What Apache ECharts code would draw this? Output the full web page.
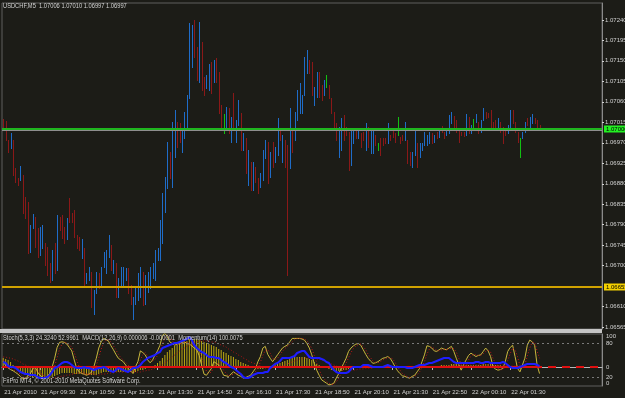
<!DOCTYPE html>
<html><head><meta charset="utf-8">
<script src="https://cdn.jsdelivr.net/npm/echarts@6/dist/echarts.min.js"></script>
<style>html,body{margin:0;padding:0;background:#1c1c17;}#c{width:625px;height:398px;}</style>
</head><body><div id="c"></div>
<script>
const symbolTitle = 'USDCHF,M5  1.07006 1.07010 1.06997 1.06997';
const indicatorTitle = 'Stoch(5,3,3) 24.3240 52.9961  MACD(12,26,9) 0.000006 -0.000001  Momentum(14) 100.0075';
const copyrightText = 'FxPro MT4, \u00a9 2001-2010 MetaQuotes Software Corp.';
const firstBar = { year: 2010, month: 3, day: 21, hour: 8, minute: 15 };
const barMinutes = 5;
const tickLabels = ['21 Apr 2010','21 Apr 09:30','21 Apr 10:50','21 Apr 12:10','21 Apr 13:30','21 Apr 14:50','21 Apr 16:10','21 Apr 17:30','21 Apr 18:50','21 Apr 20:10','21 Apr 21:30','21 Apr 22:50','22 Apr 00:10','22 Apr 01:30'];
const priceTicks = [1.06565,1.06610,1.06700,1.06745,1.06790,1.06835,1.06880,1.06925,1.06970,1.07015,1.07060,1.07105,1.07150,1.07195,1.07240];
const levelLine = 1.07000;
const alertLine = 1.06653;
const bidLine = 1.06997;
const stochLevels = [80, 20];
const subEdgeLabels = ['100', '0'];

const high = [
1.07022,1.07018,1.06976,1.06991,1.06976,1.06914,1.06892,1.06919,1.06899,1.06851,
1.06840,1.06789,1.06813,1.06807,1.06782,1.06785,1.06789,1.06749,1.06741,1.06705,
1.06734,1.06749,1.06811,1.06807,1.06811,1.06785,1.06804,1.06848,1.06815,1.06822,
1.06767,1.06763,1.06758,1.06738,1.06683,1.06697,1.06686,1.06646,1.06686,1.06683,
1.06697,1.06730,1.06734,1.06767,1.06745,1.06712,1.06705,1.06672,1.06697,1.06697,
1.06694,1.06694,1.06657,1.06631,1.06653,1.06683,1.06697,1.06686,1.06679,1.06686,
1.06697,1.06705,1.06734,1.06738,1.06800,1.06859,1.06895,1.06972,1.06950,1.07016,
1.07042,1.07016,1.07013,1.06998,1.07038,1.07075,1.07233,1.07229,1.07240,1.07181,
1.07236,1.07192,1.07115,1.07119,1.07143,1.07148,1.07152,1.07156,1.07126,1.07053,
1.07033,1.07049,1.07046,1.07027,1.07079,1.07020,1.07064,1.07035,1.06991,1.06980,
1.06954,1.06928,1.06928,1.06917,1.06892,1.06903,1.06954,1.06976,1.06972,1.06950,
1.06972,1.06961,1.07024,1.07002,1.06987,1.06976,1.06965,1.07046,1.07002,1.07038,
1.07086,1.07101,1.07075,1.07159,1.07174,1.07152,1.07148,1.07093,1.07126,1.07126,
1.07097,1.07108,1.07119,1.07097,1.07068,1.07038,1.07013,1.07005,1.07024,1.07031,
1.07005,1.06994,1.07002,1.07002,1.06998,1.06998,1.06991,1.06994,1.07013,1.07005,
1.07002,1.06998,1.06987,1.06969,1.06980,1.06980,1.06980,1.07013,1.06987,1.07002,
1.06991,1.07027,1.06983,1.06987,1.07016,1.06976,1.06950,1.06950,1.06998,1.06969,
1.06969,1.06969,1.06994,1.06987,1.06994,1.06991,1.06987,1.06994,1.06998,1.07007,
1.06994,1.07002,1.07031,1.07038,1.07029,1.07020,1.06998,1.06994,1.06994,1.07033,
1.07027,1.07009,1.07022,1.07033,1.07016,1.07020,1.07046,1.07038,1.07035,1.07042,
1.07016,1.07020,1.07024,1.07016,1.07005,1.06998,1.07009,1.07042,1.07042,1.07016,
1.06994,1.06980,1.06994,1.07016,1.07024,1.07027,1.07033,1.07024,1.07020,1.07010];

const low = [
1.07005,1.06976,1.06950,1.06958,1.06899,1.06884,1.06877,1.06888,1.06815,1.06804,
1.06727,1.06730,1.06782,1.06741,1.06719,1.06723,1.06738,1.06701,1.06679,1.06664,
1.06668,1.06683,1.06690,1.06778,1.06760,1.06749,1.06758,1.06796,1.06796,1.06763,
1.06738,1.06734,1.06716,1.06657,1.06661,1.06668,1.06609,1.06595,1.06639,1.06650,
1.06657,1.06697,1.06683,1.06719,1.06690,1.06683,1.06631,1.06631,1.06653,1.06657,
1.06668,1.06639,1.06617,1.06584,1.06617,1.06624,1.06631,1.06613,1.06617,1.06642,
1.06650,1.06672,1.06668,1.06712,1.06712,1.06749,1.06818,1.06870,1.06892,1.06873,
1.06939,1.06961,1.06972,1.06950,1.06980,1.07002,1.07068,1.07137,1.07159,1.07108,
1.07104,1.07086,1.07075,1.07090,1.07086,1.07079,1.07104,1.07104,1.07035,1.06998,
1.06991,1.07005,1.06991,1.06972,1.07002,1.06972,1.07009,1.06954,1.06954,1.06903,
1.06877,1.06866,1.06866,1.06884,1.06859,1.06873,1.06888,1.06936,1.06881,1.06895,
1.06917,1.06928,1.06943,1.06976,1.06928,1.06917,1.06679,1.06914,1.06950,1.06976,
1.07020,1.07035,1.07035,1.07075,1.07123,1.07123,1.07075,1.07053,1.07071,1.07071,
1.07064,1.07075,1.07093,1.07068,1.07035,1.06998,1.06976,1.06939,1.06954,1.06976,
1.06987,1.06910,1.06921,1.06969,1.06980,1.06980,1.06961,1.06976,1.06954,1.06961,
1.06947,1.06947,1.06965,1.06954,1.06943,1.06965,1.06969,1.06969,1.06976,1.06983,
1.06972,1.06987,1.06969,1.06976,1.06976,1.06925,1.06921,1.06917,1.06943,1.06917,
1.06939,1.06954,1.06965,1.06965,1.06969,1.06969,1.06972,1.06980,1.06983,1.06994,
1.06980,1.06987,1.06991,1.07013,1.07005,1.06994,1.06972,1.06987,1.06985,1.06987,
1.06991,1.06991,1.07005,1.07016,1.06991,1.06994,1.07020,1.07024,1.07027,1.07005,
1.06998,1.07002,1.07005,1.06994,1.06969,1.06987,1.06991,1.07005,1.07013,1.06994,
1.06972,1.06939,1.06980,1.06994,1.07009,1.07005,1.07013,1.07013,1.07002,1.06997];

// u = close above open, d = close below open, g = unchanged
const barDir = 'dddudddudd'+'duudduuddd'+'ududdduddd'+'dduduuduud'+'uuuududuuu'+'udduuuuduu'+'uuuuuuuudu'+'udduuuuudd'+'udduududdd'+'gududuudud'+'ududduuudu'+'duududdudu'+'uuuuudduud'+'dugdddduud'+'dduududdud'+'uudgdddudd'+'dgddudduud'+'uuuuududud'+'duuudddddu'+'duguduuddd'+'dduddduudd'+'dguuduuddd';

const stochMain = [
47,40,36,33,31,28,25,21,16,18,21,25,34,38,29,23,20,18,22,26,
38,53,72,81,82,81,78,72,66,50,35,29,26,25,23,25,28,38,53,71,
82,88,86,83,75,68,60,53,50,47,41,35,31,26,38,47,66,63,59,50,
45,50,59,66,76,93,97,91,82,79,76,78,79,81,82,79,78,75,71,68,
58,41,25,23,29,35,47,44,41,32,23,22,21,25,29,26,23,21,18,19,
21,23,29,35,47,56,71,74,60,53,47,53,59,65,71,74,76,82,88,88,
88,88,87,85,79,71,59,44,32,23,15,12,9,6,7,9,18,26,35,44,
53,65,71,75,78,79,76,68,60,53,48,44,45,47,50,53,54,56,53,46,
38,31,26,22,21,19,18,21,23,29,35,47,59,75,74,71,66,65,68,71,
69,68,71,74,65,53,42,32,42,50,58,62,59,56,58,59,65,71,66,56,
38,34,32,33,35,47,65,72,76,56,35,29,41,53,76,85,82,76,41,26];

const stochSignal = [
50,45,41,36,33,31,28,25,21,18,18,21,27,32,34,30,24,20,20,22,
29,39,54,69,78,81,80,77,72,63,50,38,30,27,25,24,25,30,40,54,
69,80,85,86,81,75,68,60,54,50,46,41,36,31,32,37,50,59,63,57,
51,48,51,58,67,78,89,94,90,84,79,78,78,79,81,81,80,77,75,71,
66,56,41,30,26,29,37,42,44,39,32,26,22,23,25,27,26,23,21,19,
19,21,24,29,37,46,58,67,68,62,53,51,53,59,65,70,74,77,82,86,
88,88,88,87,84,78,70,58,45,33,23,17,12,9,7,7,11,18,26,35,
44,54,63,70,75,77,78,74,68,60,54,48,46,45,47,50,52,54,54,52,
46,38,32,26,23,21,19,19,21,24,29,37,47,60,69,73,70,67,66,68,
69,69,69,71,70,64,53,42,39,41,50,57,60,59,58,58,61,65,67,64,
53,43,35,33,33,38,49,61,71,68,56,40,35,41,57,71,81,81,66,53];

// MACD values in points (0.00001)
const macdHistPoints = [
9,8,7,5,2,-1,-3,-5,-7,-8,-9,-10,-10,-10,-10,-11,-11,-11,-11,-11,
-10,-9,-8,-7,-6,-6,-6,-6,-6,-7,-7,-7,-7,-7,-8,-8,-8,-8,-8,-7,
-6,-5,-5,-5,-5,-5,-5,-5,-5,-5,-5,-5,-5,-6,-5,-4,-3,-3,-2,-1,
0,1,2,4,6,9,12,15,17,19,21,22,23,24,25,26,28,28,28,28,
27,26,25,24,23,22,21,20,18,17,15,14,12,11,10,8,7,5,4,3,
2,1,0,-1,-2,-2,-2,-1,0,0,1,2,3,4,5,6,7,8,9,10,
10,10,10,10,9,8,7,5,3,2,1,0,-1,-2,-3,-4,-4,-4,-4,-3,
-3,-2,-2,-1,-1,-1,-1,0,0,0,0,0,0,0,0,-1,-1,0,0,0,
0,1,1,1,1,0,0,-1,-1,-1,-1,0,0,0,1,1,1,1,1,2,
2,2,2,3,3,3,2,2,2,2,2,2,2,2,2,2,3,3,3,3,
2,2,2,2,0,-1,-1,0,0,-1,-1,-2,-1,0,0,0,1,1,1,0.6];

const macdSignalPoints = [
10,10,9,9,8,7,6,5,3,2,1,0,-2,-3,-5,-6,-8,-9,-10,-10,
-11,-11,-10,-10,-9,-9,-8,-8,-7,-7,-6,-6,-6,-7,-7,-7,-7,-7,-8,-8,
-7,-7,-7,-6,-6,-6,-5,-5,-5,-5,-5,-5,-5,-5,-5,-5,-5,-4,-4,-3,
-3,-2,-1,0,1,2,4,6,8,10,12,14,16,18,19,21,22,23,24,25,
26,26,26,26,26,25,25,24,23,22,21,20,18,17,15,14,12,11,9,8,
6,5,4,3,2,1,0,-1,-1,-1,-1,0,0,1,1,2,3,4,5,6,
7,8,8,9,9,9,9,9,8,8,7,6,5,4,3,2,1,0,-1,-2,
-2,-3,-3,-3,-3,-2,-2,-2,-1,-1,-1,-1,0,0,0,0,0,0,0,0,
0,0,0,0,0,0,0,0,0,0,0,0,0,0,0,0,0,0,1,1,
1,1,1,1,2,2,2,2,2,2,2,2,2,2,2,2,2,2,2,2,
2,2,2,2,2,2,1,1,1,1,0,0,0,0,0,0,0,0,0,-0.1];

const momentum = [
100.05,100.04,100.01,100.00,100.00,99.99,99.97,99.95,99.94,99.93,
99.93,99.92,99.92,99.92,99.90,99.89,99.89,99.89,99.90,99.92,
99.95,99.99,100.00,100.02,100.04,100.05,100.05,100.04,100.02,100.00,
99.99,99.99,99.99,100.00,99.99,99.99,99.98,99.97,99.98,99.99,
99.99,100.00,99.99,99.97,99.96,99.95,99.97,99.99,99.98,99.97,
99.96,99.95,99.97,99.99,99.99,100.00,100.02,100.05,100.07,100.09,
100.10,100.11,100.12,100.14,100.15,100.19,100.20,100.21,100.22,100.23,
100.24,100.24,100.25,100.26,100.27,100.28,100.30,100.27,100.22,100.19,
100.17,100.15,100.14,100.12,100.10,100.10,100.10,100.09,100.09,100.07,
100.05,100.04,100.02,100.00,99.99,99.97,99.95,99.93,99.90,99.89,
99.89,99.90,99.92,99.93,99.94,99.94,99.94,99.95,99.95,99.99,
100.01,100.03,100.04,100.06,100.09,100.09,100.09,100.09,100.10,100.11,
100.14,100.15,100.16,100.16,100.13,100.10,100.09,100.09,100.09,100.09,
100.08,100.07,100.05,100.04,100.00,99.97,99.95,99.94,99.94,99.94,
99.94,99.95,99.98,100.00,100.00,100.00,100.00,100.02,100.02,100.02,
100.01,100.00,100.00,100.00,100.00,100.00,100.01,100.02,100.01,100.00,
100.00,100.00,100.00,100.00,100.00,99.99,99.99,99.99,100.00,100.01,
100.02,100.02,100.02,100.03,100.04,100.04,100.05,100.06,100.07,100.08,
100.09,100.09,100.09,100.07,100.05,100.04,100.04,100.04,100.04,100.04,
100.04,100.04,100.04,100.05,100.05,100.04,100.04,100.05,100.05,100.04,
100.04,100.04,100.04,100.04,100.05,100.04,100.02,100.00,99.99,99.99,
99.99,100.00,100.01,100.02,100.03,100.03,100.03,100.03,100.02,100.01];

// ---------- build ----------
const MONTHS = ['Jan','Feb','Mar','Apr','May','Jun','Jul','Aug','Sep','Oct','Nov','Dec'];
const totalSlots = 245;
const pad = n => (n < 10 ? '0' : '') + n;
const t0 = Date.UTC(firstBar.year, firstBar.month, firstBar.day, firstBar.hour, firstBar.minute);
const cats = [];
for (let k = 0; k < totalSlots; k++) {
  const d = new Date(t0 + k * barMinutes * 60000);
  cats.push(pad(d.getUTCDate()) + ' ' + MONTHS[d.getUTCMonth()] + ' ' + pad(d.getUTCHours()) + ':' + pad(d.getUTCMinutes()));
}
const labelAt = {};
labelAt[0] = tickLabels[0];
tickLabels.slice(1).forEach(t => { const k = cats.indexOf(t); if (k >= 0) labelAt[k] = t; });
const showLabel = idx => labelAt[idx] !== undefined;

const FONT = "'Liberation Sans',Arial,sans-serif";
const TXT = '#d2d2d2';
const AXIS = '#8a8a8a';
const dirColor = { u: '#1f6cc8', d: '#8a1818', g: '#12c012' };

const ohlc = high.map((h, i) => [i, h, low[i]]);

// horizontal price levels: [x, price, style key]
const levelData = [[0, bidLine, 0], [0, alertLine, 1], [0, levelLine, 2]];
const levelStyle = [
  { stroke: '#8e8e8e', width: 1, tag: null },
  { stroke: '#d0a200', width: 2, tag: '#f4d000' },
  { stroke: '#1fb51f', width: 2, tag: '#22f022' }
];

const txt = (s, x, y) => ({ type: 'text', x: x, y: y, scaleX: 0.82, z: 20,
  style: { text: s, fill: TXT, font: '7px ' + FONT, textVerticalAlign: 'top' } });

const chart = echarts.init(document.getElementById('c'), null, { renderer: 'canvas' });
chart.setOption({
  backgroundColor: '#1c1c17',
  animation: false,
  grid: [
    { left: 2, top: 3, width: 600, height: 326, show: true, borderColor: '#5e5e5e', borderWidth: 1, containLabel: false, outerBoundsMode: 'none' },
    { left: 2, top: 334, width: 600, height: 52, show: true, borderColor: '#5e5e5e', borderWidth: 1, containLabel: false, outerBoundsMode: 'none' }
  ],
  xAxis: [
    { type: 'category', gridIndex: 0, data: cats, boundaryGap: true, show: false },
    { type: 'category', gridIndex: 1, data: cats, boundaryGap: true,
      axisLine: { show: true, lineStyle: { color: '#b8b8b8', width: 1 } },
      axisTick: { show: true, alignWithLabel: true, interval: showLabel, length: 3, lineStyle: { color: '#b8b8b8' } },
      axisLabel: { show: true, interval: showLabel, showMinLabel: true, hideOverlap: false,
        formatter: (v, idx) => labelAt[idx] || '', align: 'left', margin: 3,
        color: TXT, fontSize: 6, fontFamily: FONT, padding: [0, 0, 0, 1] },
      splitLine: { show: false } }
  ],
  yAxis: [
    { type: 'value', gridIndex: 0, position: 'right', min: 1.06561, max: 1.07277,
      axisLine: { show: true, lineStyle: { color: AXIS } },
      axisTick: { show: true, length: 2, customValues: priceTicks, lineStyle: { color: TXT } },
      axisLabel: { show: true, customValues: priceTicks, formatter: v => v.toFixed(5), color: TXT, fontSize: 6, fontFamily: FONT, margin: 3, hideOverlap: false },
      splitLine: { show: false } },
    { type: 'value', gridIndex: 1, position: 'right', min: 4.06, max: 95.8,
      axisLine: { show: true, lineStyle: { color: AXIS } },
      axisTick: { show: false },
      axisLabel: { show: true, customValues: stochLevels, color: TXT, fontSize: 6, fontFamily: FONT, margin: 4 },
      splitLine: { show: false } },
    { type: 'value', gridIndex: 1, position: 'right', min: -19, max: 33,
      axisLine: { show: false }, axisTick: { show: false },
      axisLabel: { show: true, customValues: [0], color: TXT, fontSize: 6, fontFamily: FONT, margin: 4 },
      splitLine: { show: false } },
    { type: 'value', gridIndex: 1, position: 'right', min: 99.81, max: 100.33, show: false }
  ],
  graphic: [
    { type: 'rect', x: 0, y: 329, shape: { width: 602, height: 4 }, style: { fill: '#c4c4c4' }, z: 10 },
    txt(symbolTitle, 3, 3),
    txt(indicatorTitle, 3, 335),
    txt(copyrightText, 3, 378),
    { type: 'text', x: 606, y: 333, z: 20, style: { text: subEdgeLabels[0], fill: TXT, font: '6px ' + FONT, textVerticalAlign: 'top' } },
    { type: 'text', x: 606, y: 380, z: 20, style: { text: subEdgeLabels[1], fill: TXT, font: '6px ' + FONT, textVerticalAlign: 'top' } }
  ],
  series: [
    { type: 'custom', xAxisIndex: 0, yAxisIndex: 0, clip: true, data: ohlc,
      encode: { x: 0, y: [1, 2] },
      renderItem: (params, api) => {
        const i = api.value(0);
        const top = api.coord([i, api.value(1)]);
        const bot = api.coord([i, api.value(2)]);
        const x = Math.round(top[0]) + 0.5;
        return { type: 'line', shape: { x1: x, y1: Math.round(top[1]), x2: x, y2: Math.round(bot[1]) + 1 },
          style: { stroke: dirColor[barDir[i]], lineWidth: 1 } };
      } },
    { type: 'custom', xAxisIndex: 0, yAxisIndex: 0, clip: false, silent: true, data: levelData, z: 6,
      encode: { x: 0, y: 1 },
      renderItem: (params, api) => {
        const st = levelStyle[api.value(2)];
        const cs = params.coordSys;
        const v = api.value(1);
        const y = Math.round(api.coord([0, v])[1]);
        const yy = st.width % 2 ? y + 0.5 : y;
        const children = [{ type: 'line', shape: { x1: cs.x, y1: yy, x2: cs.x + cs.width, y2: yy },
          style: { stroke: st.stroke, lineWidth: st.width } }];
        if (st.tag) {
          children.push({ type: 'text', x: cs.x + cs.width + 2, y: y,
            style: { text: v.toFixed(5), fill: '#000', backgroundColor: st.tag, padding: [1, 2, 0, 2],
              font: '6px ' + FONT, verticalAlign: 'middle', align: 'left' } });
        }
        return { type: 'group', children: children };
      } },
    { type: 'bar', xAxisIndex: 1, yAxisIndex: 2, data: macdHistPoints, barWidth: 1, itemStyle: { color: '#bca914' }, z: 2 },
    { type: 'line', xAxisIndex: 1, yAxisIndex: 1, data: stochMain, showSymbol: false, lineStyle: { color: '#c9b73e', width: 1 }, z: 3,
      markLine: { silent: true, symbol: 'none', animation: false, label: { show: false },
        lineStyle: { color: '#7a7a7a', width: 1, type: [2, 3] },
        data: stochLevels.map(v => ({ yAxis: v })) } },
    { type: 'line', xAxisIndex: 1, yAxisIndex: 1, data: stochSignal, showSymbol: false, lineStyle: { color: '#c01818', width: 1, type: [1, 2] }, z: 3 },
    { type: 'line', xAxisIndex: 1, yAxisIndex: 2, data: macdSignalPoints, showSymbol: false, lineStyle: { color: '#b01414', width: 1, type: [1, 2] }, z: 4,
      markLine: { silent: true, symbol: 'none', animation: false, label: { show: false },
        data: [
          { yAxis: 0, lineStyle: { color: '#e01010', width: 2, type: [8, 6] } },
          [ { coord: [0, 0], lineStyle: { color: '#e01010', width: 2, type: 'solid' } }, { coord: [high.length - 1, 0] } ]
        ] } },
    { type: 'line', xAxisIndex: 1, yAxisIndex: 3, data: momentum, showSymbol: false, lineStyle: { color: '#1e1eff', width: 2 }, z: 5 }
  ]
});
</script>
</body></html>
